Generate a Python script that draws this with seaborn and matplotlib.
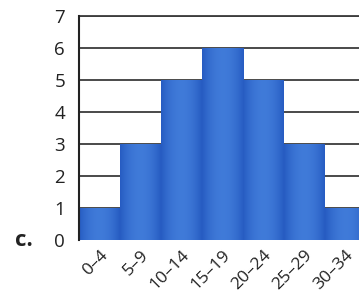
import numpy as np
import pandas as pd
import seaborn as sns
import matplotlib.pyplot as plt

# data
bins = ['0–4', '5–9', '10–14', '15–19', '20–24', '25–29', '30–34']
counts = [1, 3, 5, 6, 5, 3, 1]
yticks = [0, 1, 2, 3, 4, 5, 6, 7]

df = pd.DataFrame({'bin': bins, 'count': counts})

sns.set_style('white')
plt.rcParams['font.family'] = ['Open Sans', 'DejaVu Sans']

fig = plt.figure(figsize=(3.59, 2.94), dpi=100)
# axes runs past the right edge, like the cropped page
ax = fig.add_axes([79/359, 54/294, 287/359, 224/294])

sns.barplot(data=df, x='bin', y='count', color='#2c62c8', width=1.0,
            edgecolor='none', saturation=1, ax=ax, zorder=2)

# soft horizontal shading on each bar: darker sides, lighter middle
grad = np.linspace(-1, 1, 64)
shade = 1 - grad**2
c_edge = np.array([0.15, 0.36, 0.76])
c_mid = np.array([0.25, 0.48, 0.85])
img = c_edge[None, :] + (c_mid - c_edge)[None, :] * shade[:, None]
img = img[None, :, :]
for p in ax.patches:
    x0, y0 = p.get_x(), p.get_y()
    w, h = p.get_width(), p.get_height()
    ax.imshow(img, extent=[x0, x0 + w, y0, y0 + h], aspect='auto',
              zorder=3, interpolation='bicubic')

ax.set_xlim(-0.5, len(bins) - 0.5)
ax.set_ylim(0, 7)
ax.set_yticks(yticks)
ax.yaxis.grid(True, color='#3c3c3c', lw=1.3, zorder=1)
ax.set_axisbelow(True)

for s in ['right', 'bottom']:
    ax.spines[s].set_visible(False)
ax.spines['left'].set_color('#222222')
ax.spines['left'].set_linewidth(1.5)
ax.spines['left'].set_zorder(4)
ax.spines['top'].set_color('#3c3c3c')
ax.spines['top'].set_linewidth(1.3)

ax.set_xlabel('')
ax.set_ylabel('')
ax.tick_params(axis='y', length=0, pad=10, labelsize=13.5, labelcolor='#222222')
ax.tick_params(axis='x', length=0, pad=5, labelsize=12.5, labelcolor='#222222')
plt.setp(ax.get_xticklabels(), rotation=45, ha='right', rotation_mode='anchor')

fig.text(24/359, 1 - 240/294, 'c.', fontsize=16, fontweight='bold',
         color='#222222', ha='center', va='center')

fig.savefig('out.png', dpi=100)
